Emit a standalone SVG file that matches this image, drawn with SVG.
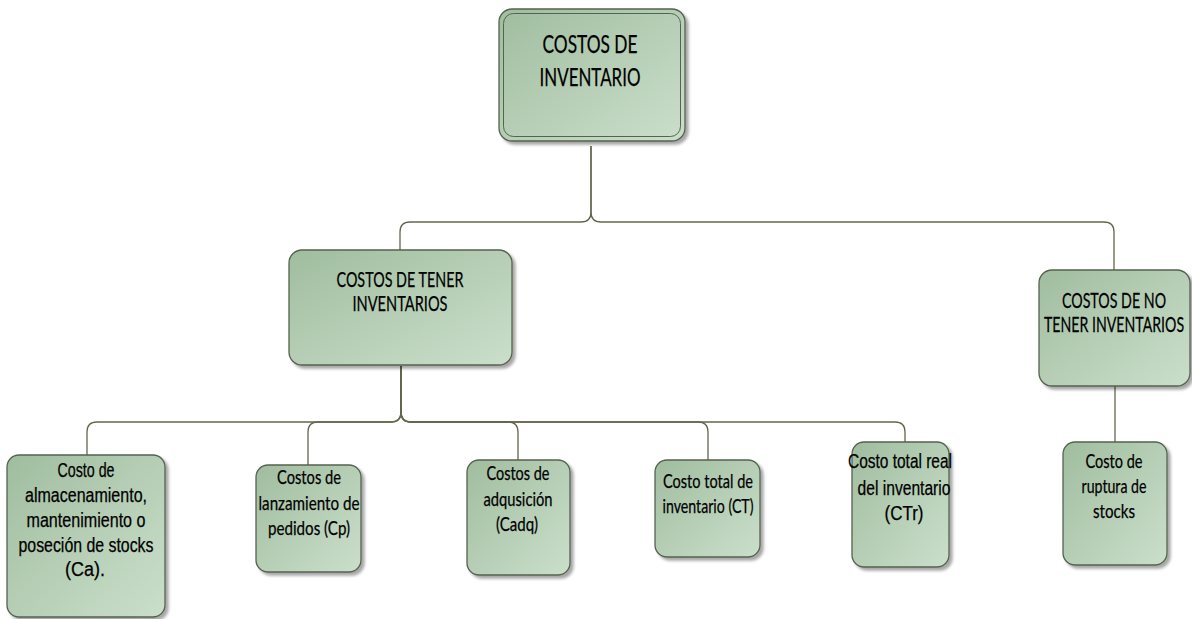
<svg xmlns="http://www.w3.org/2000/svg" width="1192" height="619" viewBox="0 0 1192 619">
  <defs>
    <linearGradient id="boxFill" x1="0" y1="0" x2="1" y2="1">
      <stop offset="0" stop-color="#a0bd9f"/>
      <stop offset="1" stop-color="#cbdfcb"/>
    </linearGradient>
    <filter id="shadow" x="-10%" y="-10%" width="125%" height="125%">
      <feGaussianBlur in="SourceAlpha" stdDeviation="1.5"/>
      <feOffset dx="3" dy="3" result="off"/>
      <feComponentTransfer><feFuncA type="linear" slope="0.35"/></feComponentTransfer>
      <feMerge><feMergeNode/><feMergeNode in="SourceGraphic"/></feMerge>
    </filter>
  </defs>
  <style>
    .box { fill: url(#boxFill); stroke: #55624f; stroke-width: 1.3; filter: url(#shadow); }
    .inner { fill: none; stroke: #55624f; stroke-width: 1; }
    .link { fill: none; stroke: #66664f; stroke-width: 1.3; }
    .cal { font-family: Lato, "Liberation Sans", sans-serif; fill: #000; stroke: #000; stroke-width: 0.25; text-anchor: middle; }
    .ari { font-family: "Liberation Sans", Arial, sans-serif; fill: #000; stroke: #000; stroke-width: 0.25; text-anchor: middle; }
  </style>

  <rect width="1192" height="619" fill="#ffffff"/>

  <!-- connectors -->
  <g id="connectors">
    <!-- root to second level -->
    <path class="link" d="M591,146 V212 Q591,222 581,222 H410 Q400,222 400,232 V250"/>
    <path class="link" d="M591,146 V212 Q591,222 601,222 H1104 Q1114,222 1114,232 V270"/>
    <!-- COSTOS DE TENER INVENTARIOS to leaves -->
    <path class="link" d="M401,366 V412 Q401,422 391,422 H97 Q87,422 87,432 V455"/>
    <path class="link" d="M401,366 V412 Q401,422 391,422 H318 Q308,422 308,432 V465"/>
    <path class="link" d="M401,366 V412 Q401,422 411,422 H508 Q518,422 518,432 V460"/>
    <path class="link" d="M401,366 V412 Q401,422 411,422 H698 Q708,422 708,432 V460"/>
    <path class="link" d="M401,366 V412 Q401,422 411,422 H895 Q905,422 905,432 V442"/>
    <!-- COSTOS DE NO TENER INVENTARIOS to leaf -->
    <path class="link" d="M1115,386 V442"/>
  </g>

  <g id="costos-inventario">
    <rect class="box" x="499" y="9" width="186" height="132" rx="13"/>
    <rect class="inner" x="503.5" y="13.5" width="177" height="123" rx="10"/>
    <text class="cal" font-size="25"><tspan x="590" y="53" textLength="95" lengthAdjust="spacingAndGlyphs">COSTOS DE</tspan><tspan x="590" y="86" textLength="101" lengthAdjust="spacingAndGlyphs">INVENTARIO</tspan></text>
  </g>

  <g id="costos-tener">
    <rect class="box" x="289" y="250" width="223" height="115" rx="13"/>
    <text class="cal" font-size="21"><tspan x="400" y="287" textLength="127" lengthAdjust="spacingAndGlyphs">COSTOS DE TENER</tspan><tspan x="400" y="311" textLength="95" lengthAdjust="spacingAndGlyphs">INVENTARIOS</tspan></text>
  </g>

  <g id="costos-no-tener">
    <rect class="box" x="1039" y="270" width="151" height="116" rx="13"/>
    <!-- narrow lettering: squeezed horizontally around the box centre -->
    <text class="cal" font-size="21" transform="translate(1114 0) scale(0.62 1)"><tspan x="0" y="308" textLength="168" lengthAdjust="spacingAndGlyphs">COSTOS DE NO</tspan><tspan x="0" y="332" textLength="226" lengthAdjust="spacingAndGlyphs">TENER INVENTARIOS</tspan></text>
  </g>

  <g id="costo-almacenamiento">
    <rect class="box" x="7" y="455" width="158" height="162" rx="12"/>
    <text class="ari" font-size="20"><tspan x="86" y="477" textLength="57" lengthAdjust="spacingAndGlyphs">Costo de</tspan><tspan x="86" y="502" textLength="122" lengthAdjust="spacingAndGlyphs">almacenamiento,</tspan><tspan x="86" y="527" textLength="119" lengthAdjust="spacingAndGlyphs">mantenimiento o</tspan><tspan x="86" y="552" textLength="135" lengthAdjust="spacingAndGlyphs">poseción de stocks</tspan><tspan x="85" y="576" textLength="40" lengthAdjust="spacingAndGlyphs">(Ca).</tspan></text>
  </g>

  <g id="costos-lanzamiento">
    <rect class="box" x="256" y="465" width="105" height="107" rx="12"/>
    <text class="cal" font-size="20"><tspan x="309" y="484" textLength="64" lengthAdjust="spacingAndGlyphs">Costos de</tspan><tspan x="309" y="510" textLength="101" lengthAdjust="spacingAndGlyphs">lanzamiento de</tspan><tspan x="309" y="535" textLength="82" lengthAdjust="spacingAndGlyphs">pedidos (Cp)</tspan></text>
  </g>

  <g id="costos-adquisicion">
    <rect class="box" x="467" y="460" width="103" height="115" rx="12"/>
    <text class="cal" font-size="20"><tspan x="518" y="480" textLength="63" lengthAdjust="spacingAndGlyphs">Costos de</tspan><tspan x="518" y="506" textLength="69" lengthAdjust="spacingAndGlyphs">adqusición</tspan><tspan x="517" y="531" textLength="42" lengthAdjust="spacingAndGlyphs">(Cadq)</tspan></text>
  </g>

  <g id="costo-total">
    <rect class="box" x="655" y="460" width="105" height="97" rx="12"/>
    <text class="cal" font-size="20"><tspan x="708" y="488" textLength="90" lengthAdjust="spacingAndGlyphs">Costo total de</tspan><tspan x="708" y="513" textLength="91" lengthAdjust="spacingAndGlyphs">inventario (CT)</tspan></text>
  </g>

  <g id="costo-total-real">
    <rect class="box" x="852" y="442" width="97" height="125" rx="12"/>
    <text class="ari" font-size="20"><tspan x="900" y="468" textLength="104" lengthAdjust="spacingAndGlyphs">Costo total real</tspan><tspan x="904" y="495" textLength="93" lengthAdjust="spacingAndGlyphs">del inventario</tspan><tspan x="904" y="520" textLength="39" lengthAdjust="spacingAndGlyphs">(CTr)</tspan></text>
  </g>

  <g id="costo-ruptura">
    <rect class="box" x="1063" y="442" width="104" height="123" rx="12"/>
    <text class="cal" font-size="20"><tspan x="1114" y="468" textLength="57" lengthAdjust="spacingAndGlyphs">Costo de</tspan><tspan x="1114" y="493" textLength="65" lengthAdjust="spacingAndGlyphs">ruptura de</tspan><tspan x="1114" y="518" textLength="42" lengthAdjust="spacingAndGlyphs">stocks</tspan></text>
  </g>
</svg>
